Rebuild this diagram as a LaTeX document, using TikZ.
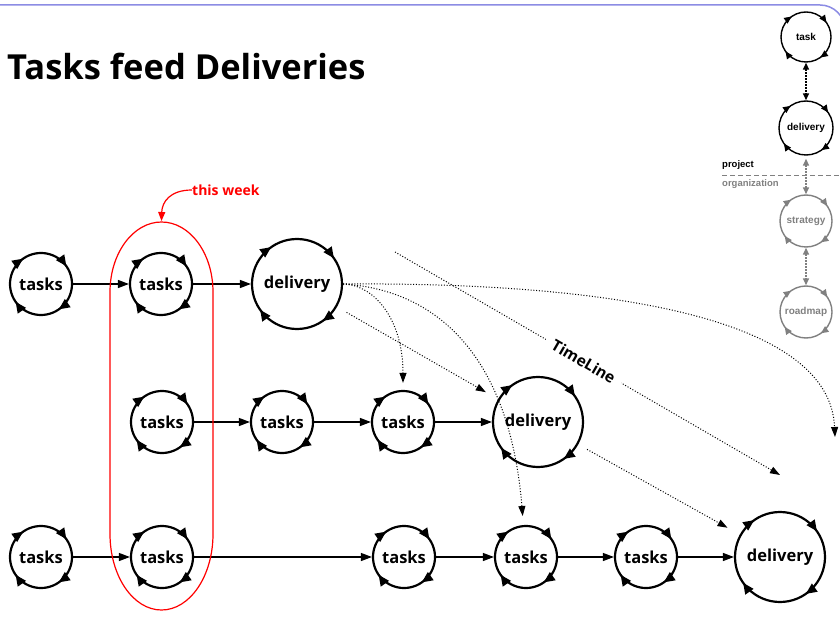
\documentclass[tikz,border=0pt]{standalone}
\usepackage{fontspec}
\setmainfont{Open Sans}
\newfontfamily\arialf{Liberation Sans}
\usetikzlibrary{arrows.meta,decorations.markings}
\definecolor{slideblue}{RGB}{140,140,228}
\definecolor{mgray}{RGB}{128,128,128}
\tikzset{
  cyc/.style={circle, draw, line width=2.2pt, inner sep=0pt, minimum size=#1,
    font=\bfseries\fontsize{16.5}{18}\selectfont,
    postaction={decorate},
    decoration={markings,
      mark=at position 0.097 with {\arrowreversed{Triangle[length=11pt,width=9.5pt]}},
      mark=at position 0.347 with {\arrowreversed{Triangle[length=11pt,width=9.5pt]}},
      mark=at position 0.597 with {\arrowreversed{Triangle[length=11pt,width=9.5pt]}},
      mark=at position 0.847 with {\arrowreversed{Triangle[length=11pt,width=9.5pt]}}}},
  mcyc/.style={circle, draw, line width=1.4pt, inner sep=0pt, minimum size=#1,
    font=\arialf\bfseries\fontsize{10}{12}\selectfont,
    postaction={decorate},
    decoration={markings,
      mark=at position 0.097 with {\arrowreversed{Triangle[length=7.5pt,width=6.5pt]}},
      mark=at position 0.347 with {\arrowreversed{Triangle[length=7.5pt,width=6.5pt]}},
      mark=at position 0.597 with {\arrowreversed{Triangle[length=7.5pt,width=6.5pt]}},
      mark=at position 0.847 with {\arrowreversed{Triangle[length=7.5pt,width=6.5pt]}}}},
  conn/.style={line width=1.2pt, -{Triangle[length=11pt,width=8pt]}},
  dotc/.style={line width=1pt, dash pattern=on 1pt off 1.8pt, -{Triangle[length=10pt,width=7pt]}},
  mdot/.style={line width=1.5pt, dash pattern=on 1.5pt off 1.5pt, {Triangle[length=7pt,width=6pt]}-{Triangle[length=7pt,width=6pt]}},
}
\begin{document}
\begin{tikzpicture}[x=1pt,y=1pt]
\useasboundingbox (0,0) rectangle (840,638);
\begin{scope}
\clip (0,0) rectangle (840,638);
% slide border
\draw[slideblue, line width=1.5pt] (0,633) -- (820,633) arc[start angle=90,end angle=0,radius=25] -- ++(0,-100);
% title
\node[anchor=base west, inner sep=0pt, font=\bfseries\fontsize{34.5}{40}\selectfont] (title) at (7,558) {Tasks feed Deliveries};

% row 1
\node[cyc=62] (tA) at (41,354) {tasks};
\node[cyc=62] (tB) at (161,354) {tasks};
\node[cyc=90] (D1) at (297,354) {delivery};
% row 2
\node[cyc=62] (t21) at (162,216) {tasks};
\node[cyc=62] (t22) at (282,216) {tasks};
\node[cyc=62] (t23) at (403,216) {tasks};
\node[cyc=90] (D2) at (538,216) {delivery};
% row 3
\node[cyc=62] (t31) at (41,81) {tasks};
\node[cyc=62] (t32) at (162,81) {tasks};
\node[cyc=62] (t33) at (404,81) {tasks};
\node[cyc=62] (t34) at (526,81) {tasks};
\node[cyc=62] (t35) at (646,81) {tasks};
\node[cyc=90] (D3) at (780,81) {delivery};

% solid connectors
\draw[conn] (tA) -- (tB);
\draw[conn] (tB) -- (D1);
\draw[conn] (t21) -- (t22);
\draw[conn] (t22) -- (t23);
\draw[conn] (t23) -- (D2);
\draw[conn] (t31) -- (t32);
\draw[conn] (t32) -- (t33);
\draw[conn] (t33) -- (t34);
\draw[conn] (t34) -- (t35);
\draw[conn] (t35) -- (D3);

% dotted connectors
\coordinate (a3end) at (835,201);
\draw[dotc, shorten >=7pt] (D1.east) .. controls (375,353) and (403,318) .. (t23);
\draw[dotc, shorten >=9pt] (D1.east) .. controls (440,348) and (510,278) .. (t34);
\draw[dotc] (D1.east) .. controls (620,356) and (830,318) .. (a3end);
\draw[dotc, shorten <=11pt, shorten >=14pt] (D1) -- (D2);
\draw[dotc, shorten <=10pt, shorten >=14pt] (D2) -- (D3);
% timeline
\coordinate (tl0) at (395,386);
\coordinate (tl1) at (780,163);
\draw[dotc] (tl0) -- node[pos=0.49, sloped, fill=white, inner xsep=8pt, inner ysep=2pt, font=\bfseries\fontsize{15.5}{17}\selectfont] (tlabel) {TimeLine} (tl1);

% this week
\path[draw=red, line width=1.2pt] (110,346) -- (110,104) arc[start angle=180,end angle=360,x radius=51.5,y radius=76] -- (213,346) arc[start angle=0,end angle=180,x radius=51.5,y radius=70] -- cycle;
\node[anchor=west, inner sep=0pt, text=red, font=\bfseries\fontsize{14}{16}\selectfont] (wk) at (192,448) {this week};
\coordinate (wktop) at (161.5,417);
\draw[red, line width=1.2pt, -{Triangle[length=9pt,width=7pt]}] (wk.west) .. controls (170,448) and (162,436) .. (wktop);

% mini legend
\node[mcyc=50] (mtask) at (806,601) {task};
\node[mcyc=54] (mdel) at (806,510) {delivery};
\node[mcyc=52, draw=mgray, text=mgray, color=mgray] (mstr) at (806,417) {strategy};
\node[mcyc=52, draw=mgray, text=mgray, color=mgray] (mroad) at (806,326) {roadmap};
\draw[mdot] (mtask) -- (mdel);
\draw[mdot, mgray, shorten <=3pt] (mdel) -- (mstr);
\draw[mdot, mgray] (mstr) -- (mroad);
\node[anchor=west, inner sep=0pt, font=\arialf\bfseries\fontsize{9.5}{11}\selectfont] (proj) at (722,473) {project};
\node[anchor=west, inner sep=0pt, text=mgray, font=\arialf\bfseries\fontsize{9.5}{11}\selectfont] (org) at (722,454) {organization};
\coordinate (dl0) at (722,462);
\coordinate (dl1) at (840,462);
\draw[mgray, line width=1pt, dash pattern=on 5pt off 3pt] (dl0) -- (dl1);
\end{scope}
\end{tikzpicture}
\end{document}
